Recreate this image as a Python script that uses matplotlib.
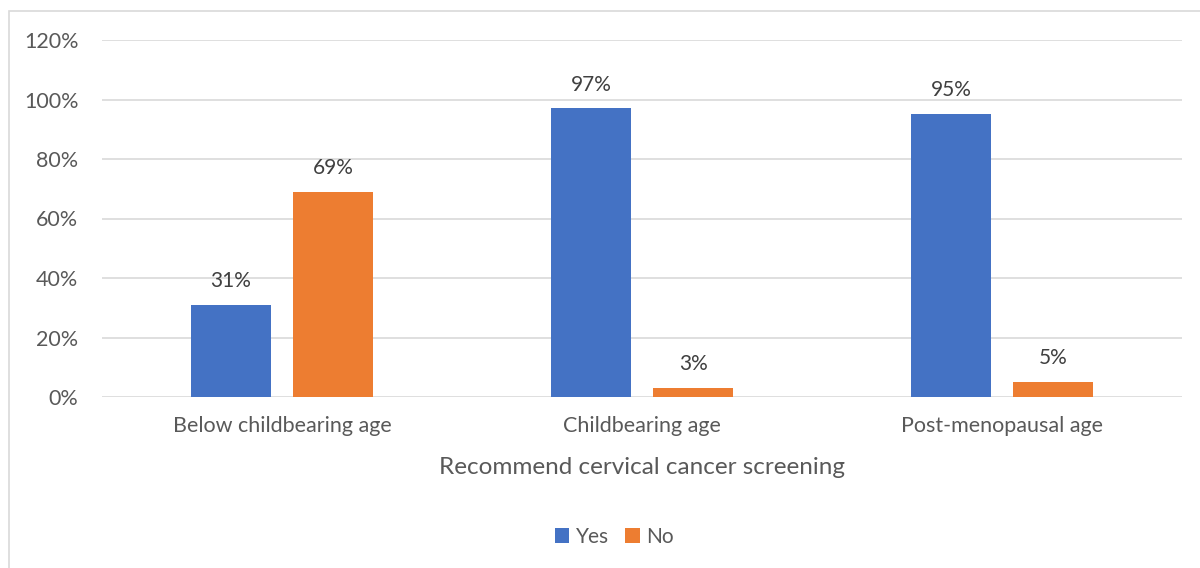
import numpy as np
import matplotlib.pyplot as plt
from matplotlib.patches import Rectangle

plt.rcParams['font.family'] = ['Lato', 'DejaVu Sans']

categories = ['Below childbearing age', 'Childbearing age', 'Post-menopausal age']
yes_vals = [31, 97, 95]
no_vals = [69, 3, 5]
yticks = [0, 20, 40, 60, 80, 100, 120]

blue = '#4472C4'
orange = '#ED7D31'
text_col = '#595959'

fig = plt.figure(figsize=(12, 5.68), dpi=100)
ax = fig.add_axes([102/1200, 1 - 397/568, 1080/1200, 357/568])

# outer chart frame
fig.patches.append(Rectangle((9/1200, -0.05), 1.2, 1 - 11/568 + 0.05,
                             transform=fig.transFigure, fill=False,
                             edgecolor='#D9D9D9', linewidth=1.2))

x = np.arange(len(categories))
w = 0.222
off = 0.142
b1 = ax.bar(x - off, yes_vals, w, color=blue, label='Yes')
b2 = ax.bar(x + off, no_vals, w, color=orange, label='No')

for bars, vals in [(b1, yes_vals), (b2, no_vals)]:
    for b, v in zip(bars, vals):
        ax.annotate(f'{v}%', (b.get_x() + b.get_width() / 2, v),
                    xytext=(0, 10), textcoords='offset points',
                    ha='center', va='bottom', fontsize=15, color='#404040')

ax.set_xlim(-0.5, 2.5)
ax.set_ylim(0, 120)
ax.set_yticks(yticks)
ax.set_yticklabels([f'{t}%' for t in yticks])
ax.set_xticks(x)
ax.set_xticklabels(categories)
ax.tick_params(axis='both', length=0, labelsize=15.5, labelcolor=text_col)
ax.tick_params(axis='y', pad=17)
ax.tick_params(axis='x', pad=14)
ax.grid(axis='y', color='#D9D9D9', linewidth=1.2)
ax.set_axisbelow(True)
for s in ax.spines.values():
    s.set_visible(False)

ax.set_xlabel('Recommend cervical cancer screening', fontsize=17.5,
              color=text_col, labelpad=15)

fig.legend(handles=[b1, b2], labels=['Yes', 'No'], loc='center',
           bbox_to_anchor=(0.512, 1 - 537/568), ncol=2, frameon=False,
           fontsize=15, handlelength=0.7, handleheight=0.7,
           handletextpad=0.3, columnspacing=0.8, labelcolor=text_col)

fig.savefig('out.png', dpi=100)
